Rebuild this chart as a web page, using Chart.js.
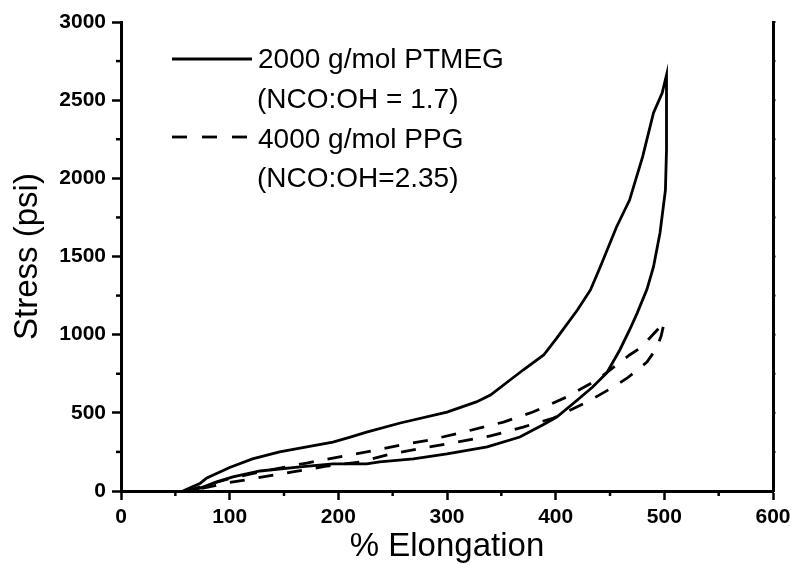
<!DOCTYPE html>
<html>
<head>
<meta charset="utf-8">
<script src="https://cdn.jsdelivr.net/npm/chart.js@4.4.1/dist/chart.umd.min.js"></script>
<style>
  html, body { margin: 0; padding: 0; background: #fff; }
  #wrap { width: 791px; height: 565px; position: relative; }
</style>
</head>
<body>
<div id="wrap"><canvas id="c" width="791" height="565"></canvas></div>
<script>
// ---- Data ----
const xTickLabels = [0, 100, 200, 300, 400, 500, 600];
const yTickLabels = [0, 500, 1000, 1500, 2000, 2500, 3000];

const seriesNames = ['2000 g/mol PTMEG', '(NCO:OH = 1.7)', '4000 g/mol PPG', '(NCO:OH=2.35)'];

// PTMEG loop: loading then unloading
const ptmegX = [57, 73, 79, 100, 121, 146, 171, 195, 211, 226, 257, 300, 327, 340, 370, 389, 401, 420, 432, 441, 456, 468, 480, 490, 498, 502,
                502, 501, 496, 490, 484, 475, 468, 459, 447, 434, 420, 401, 388, 367, 337, 300, 269, 238, 226, 195, 165, 128, 103, 88, 73, 60];
const ptmegY = [0, 50, 83, 150, 205, 250, 282, 313, 345, 377, 435, 505, 570, 614, 774, 870, 978, 1158, 1286, 1433, 1689, 1861, 2137, 2418, 2546, 2661,
                2181, 1925, 1650, 1433, 1290, 1138, 1030, 902, 755, 665, 582, 473, 422, 345, 282, 237, 205, 186, 173, 173, 154, 128, 90, 58, 19, 0];

// PPG loop: loading then unloading
const ppgX = [60, 80, 100, 130, 171, 195, 226, 257, 284, 315, 352, 379, 410, 438, 468, 478, 496, 500,
              497, 493, 484, 466, 453, 429, 398, 370, 340, 309, 278, 248, 220, 190, 158, 125, 97, 80, 62];
const ppgY = [0, 40, 80, 125, 179, 211, 250, 294, 326, 377, 441, 505, 601, 710, 870, 915, 1049, 1081,
              990, 915, 825, 723, 665, 569, 467, 409, 352, 313, 275, 237, 186, 160, 122, 83, 51, 25, 0];

const toPts = (xs, ys) => xs.map((x, i) => ({ x: x, y: ys[i] }));

const FONT = "'Liberation Sans', Arial, Helvetica, sans-serif";

const extrasPlugin = {
  id: 'extras',
  afterDraw(chart) {
    const ctx = chart.ctx;
    const xs = chart.scales.x, ys = chart.scales.y;
    const area = chart.chartArea;
    ctx.save();
    ctx.strokeStyle = '#000';
    ctx.lineWidth = 2.5;
    // minor ticks x
    for (let v = 50; v < 600; v += 100) {
      const px = xs.getPixelForValue(v);
      ctx.beginPath(); ctx.moveTo(px, area.bottom); ctx.lineTo(px, area.bottom + 5); ctx.stroke();
    }
    // minor ticks y
    for (let v = 250; v < 3000; v += 500) {
      const py = ys.getPixelForValue(v);
      ctx.beginPath(); ctx.moveTo(area.left, py); ctx.lineTo(area.left - 5, py); ctx.stroke();
    }
    // tiny ticks on right axis
    ctx.lineWidth = 2;
    for (let v = 250; v <= 3000; v += 250) {
      const py = ys.getPixelForValue(v);
      ctx.beginPath(); ctx.moveTo(area.right - 1, py); ctx.lineTo(area.right + 2.5, py); ctx.stroke();
    }
    // legend
    ctx.lineWidth = 2.8;
    ctx.lineCap = 'butt';
    ctx.beginPath(); ctx.moveTo(172, 59); ctx.lineTo(252, 59); ctx.stroke();
    ctx.setLineDash([15, 15]);
    ctx.beginPath(); ctx.moveTo(172, 137); ctx.lineTo(254, 137); ctx.stroke();
    ctx.setLineDash([]);
    ctx.fillStyle = '#000';
    ctx.font = '28px ' + FONT;
    ctx.textBaseline = 'alphabetic';
    ctx.textAlign = 'left';
    ctx.fillText(seriesNames[0], 258, 68);
    ctx.fillText(seriesNames[1], 257, 108);
    ctx.fillText(seriesNames[2], 258, 148);
    ctx.fillText(seriesNames[3], 257, 187);
    ctx.restore();
  }
};

new Chart(document.getElementById('c'), {
  type: 'scatter',
  data: {
    datasets: [
      {
        label: seriesNames[0],
        data: toPts(ptmegX, ptmegY),
        showLine: true,
        borderColor: '#000',
        borderWidth: 2.8,
        pointRadius: 0,
        tension: 0,
        fill: false
      },
      {
        label: seriesNames[2],
        data: toPts(ppgX, ppgY),
        showLine: true,
        borderColor: '#000',
        borderWidth: 2.8,
        borderDash: [15, 14],
        pointRadius: 0,
        tension: 0,
        fill: false
      }
    ]
  },
  options: {
    responsive: false,
    animation: false,
    devicePixelRatio: 1,
    layout: { padding: { top: 22, left: 0, right: 0, bottom: 0 } },
    plugins: { legend: { display: false }, tooltip: { enabled: false } },
    scales: {
      x: {
        type: 'linear',
        min: 0, max: 600,
        afterFit(s) { s.height = 74; s.paddingLeft = 0; s.paddingRight = 0; },
        afterBuildTicks(s) {
          s.ticks = xTickLabels.map(v => ({ value: v }));
        },
        ticks: {
          autoSkip: false,
          maxRotation: 0,
          padding: 5,
          color: '#000',
          callback: v => String(v),
          font: { family: FONT, size: 21, weight: 'bold' }
        },
        grid: { drawOnChartArea: false, drawTicks: true, tickLength: 9, tickWidth: 2.5, tickColor: '#000' },
        border: { display: true, color: '#000', width: 3 },
        title: {
          display: true,
          text: '% Elongation',
          color: '#000',
          font: { family: FONT, size: 33, lineHeight: 1.1 },
          padding: { top: 0, bottom: 0 }
        }
      },
      y: {
        type: 'linear',
        position: 'left',
        min: 0, max: 3000,
        afterFit(s) { s.width = 121; s.paddingTop = 0; s.paddingBottom = 0; },
        afterBuildTicks(s) {
          s.ticks = yTickLabels.map(v => ({ value: v }));
        },
        ticks: {
          autoSkip: false,
          padding: 6,
          color: '#000',
          callback: v => String(v),
          font: { family: FONT, size: 21, weight: 'bold' }
        },
        grid: { drawOnChartArea: false, drawTicks: true, tickLength: 9, tickWidth: 2.5, tickColor: '#000' },
        border: { display: true, color: '#000', width: 3 },
        title: {
          display: true,
          text: 'Stress (psi)',
          color: '#000',
          font: { family: FONT, size: 33, lineHeight: 1.1 },
          padding: { top: 10, bottom: 0 }
        }
      },
      y2: {
        type: 'linear',
        position: 'right',
        min: 0, max: 3000,
        afterFit(s) { s.width = 18; },
        ticks: { display: false },
        grid: { drawOnChartArea: false, drawTicks: false },
        border: { display: true, color: '#000', width: 3 }
      }
    }
  },
  plugins: [extrasPlugin]
});
</script>
</body>
</html>
